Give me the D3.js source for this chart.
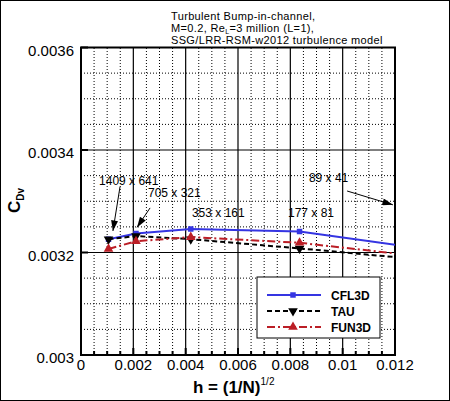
<!DOCTYPE html>
<html>
<head>
<meta charset="utf-8">
<script src="https://cdn.jsdelivr.net/npm/d3@7"></script>
<style>
  body { margin: 0; background: #fff; }
  svg { display: block; font-family: "Liberation Sans", Arial, Helvetica, sans-serif; }
</style>
</head>
<body>
<svg id="chart" width="450" height="401"></svg>
<script>
// grid spacing h = (1/N)^(1/2) for each mesh
const hValues = [0.001052, 0.002102, 0.004195, 0.008352, 0.016554];
const meshLabels = ["1409 x 641", "705 x 321", "353 x 161", "177 x 81", "89 x 41"];

// Cdv values
const cfl3d = [0.003226, 0.003237, 0.003246, 0.003241, 0.003183];
const tau   = [0.003226, 0.003232, 0.003226, 0.003208, 0.003170];
const fun3d = [0.003207, 0.003222, 0.003230, 0.003219, 0.003172];

const xTicks = [0, 0.002, 0.004, 0.006, 0.008, 0.01, 0.012];
const yTicks = [0.003, 0.0032, 0.0034, 0.0036];

// label anchor (h, Cdv) and arrow start/end for each mesh label
const labelPos = [[0.00069, 0.003332], [0.00256, 0.003308], [0.00424, 0.003269], [0.00791, 0.003269], [0.00871, 0.003338]];
const arrows = [
  [[0.00149, 0.003328], [0.00122, 0.003242]],
  [[0.00264, 0.003287], [0.00214, 0.003249]],
  [[0.01017, 0.003320], [0.01192, 0.003293]]
];

const series = [
  { name: "CFL3D", values: cfl3d, color: "#3535e2", dash: null, symbol: "square" },
  { name: "TAU", values: tau, color: "#000000", dash: "5,3", symbol: "down" },
  { name: "FUN3D", values: fun3d, color: "#bb1e26", dash: "8,3,2,3", symbol: "up" }
];

const svg = d3.select("#chart");
const x = d3.scaleLinear().domain([0, 0.012]).range([81, 395]);
const y = d3.scaleLinear().domain([0.003, 0.0036]).range([355, 47.5]);

// outer border
svg.append("rect")
  .attr("x", 0.5).attr("y", 0.5)
  .attr("width", 449).attr("height", 400)
  .attr("fill", "#fff").attr("stroke", "#000");

const defs = svg.append("defs");
defs.append("clipPath").attr("id", "plot-clip")
  .append("rect")
  .attr("x", x(0)).attr("y", y(0.0036))
  .attr("width", x(0.012) - x(0)).attr("height", y(0.003) - y(0.0036));

defs.append("marker")
  .attr("id", "arrow")
  .attr("viewBox", "0 0 12 8")
  .attr("refX", 12).attr("refY", 4)
  .attr("markerWidth", 12).attr("markerHeight", 7)
  .attr("markerUnits", "userSpaceOnUse")
  .attr("orient", "auto")
  .append("path")
  .attr("d", "M0,0 L12,4 L0,8 Z")
  .attr("fill", "#000");

// grid
const grid = svg.append("g");
const vLines = d3.range(0, 25).map(i => ({ v: i * 0.0005, major: i % 4 === 0 }));
const hLines = d3.range(0, 13).map(i => ({ v: 0.003 + i * 0.00005, major: i % 4 === 0 }));

grid.selectAll("line.v")
  .data(vLines)
  .enter()
  .append("line")
  .attr("x1", d => x(d.v)).attr("x2", d => x(d.v))
  .attr("y1", y(0.003)).attr("y2", y(0.0036))
  .attr("stroke", "#000")
  .attr("stroke-width", d => d.major ? 1.2 : 1)
  .attr("stroke-dasharray", d => d.major ? null : "1,2");

grid.selectAll("line.h")
  .data(hLines)
  .enter()
  .append("line")
  .attr("x1", x(0)).attr("x2", x(0.012))
  .attr("y1", d => y(d.v)).attr("y2", d => y(d.v))
  .attr("stroke", "#000")
  .attr("stroke-width", d => d.major ? 1.2 : 1)
  .attr("stroke-dasharray", d => d.major ? null : "1,2");

// ticks
svg.append("g").selectAll("line")
  .data(vLines)
  .enter()
  .append("line")
  .attr("x1", d => x(d.v)).attr("x2", d => x(d.v))
  .attr("y1", y(0.003)).attr("y2", d => y(0.003) - (d.major ? 7 : 4))
  .attr("stroke", "#000").attr("stroke-width", 2);

svg.append("g").selectAll("line")
  .data(hLines.filter(d => d.major))
  .enter()
  .append("line")
  .attr("x1", x(0)).attr("x2", x(0) + 7)
  .attr("y1", d => y(d.v)).attr("y2", d => y(d.v))
  .attr("stroke", "#000").attr("stroke-width", 2);

// frame
svg.append("rect")
  .attr("x", x(0)).attr("y", y(0.0036))
  .attr("width", x(0.012) - x(0)).attr("height", y(0.003) - y(0.0036))
  .attr("fill", "none").attr("stroke", "#000").attr("stroke-width", 2);

// tick labels
svg.append("g").selectAll("text")
  .data(xTicks)
  .enter()
  .append("text")
  .attr("x", d => x(d))
  .attr("y", 370)
  .attr("text-anchor", "middle")
  .attr("font-size", 15)
  .text(d => d === 0 ? "0" : String(+d.toFixed(3)));

svg.append("g").selectAll("text")
  .data(yTicks)
  .enter()
  .append("text")
  .attr("x", 74)
  .attr("y", d => y(d) + 8)
  .attr("text-anchor", "end")
  .attr("font-size", 15)
  .text(d => String(+d.toFixed(4)));

// axis titles
const xTitle = svg.append("text")
  .attr("x", 193).attr("y", 393)
  .attr("font-size", 17).attr("font-weight", "bold");
xTitle.append("tspan").text("h = (1/N)");
xTitle.append("tspan").attr("dy", -8).attr("font-size", 10).attr("font-weight", "normal").text("1/2");

const yTitle = svg.append("text")
  .attr("transform", "translate(20,213) rotate(-90)")
  .attr("font-size", 17).attr("font-weight", "bold");
yTitle.append("tspan").text("C");
yTitle.append("tspan").attr("dy", 4).attr("font-size", 10).text("Dv");

// title
const title = svg.append("g").attr("font-size", 11).attr("letter-spacing", 0.35);
title.append("text").attr("x", 171).attr("y", 19.8).text("Turbulent Bump-in-channel,");
const t2 = title.append("text").attr("x", 171).attr("y", 32.1);
t2.append("tspan").text("M=0.2, Re");
t2.append("tspan").attr("dy", 2).attr("font-size", 7).text("L");
t2.append("tspan").attr("dy", -2).text("=3 million (L=1),");
title.append("text").attr("x", 171).attr("y", 44.4).text("SSG/LRR-RSM-w2012 turbulence model");

// series
const plot = svg.append("g").attr("clip-path", "url(#plot-clip)");
const line = d3.line()
  .x((d, i) => x(hValues[i]))
  .y(d => y(d));

function symbolPath(kind) {
  if (kind === "square") return d3.symbol(d3.symbolSquare, 30)();
  return d3.symbol(d3.symbolTriangle, 40)();
}

series.forEach(s => {
  plot.append("path")
    .datum(s.values)
    .attr("d", line)
    .attr("fill", "none")
    .attr("stroke", s.color)
    .attr("stroke-width", 2)
    .attr("stroke-dasharray", s.dash);

  plot.selectAll(null)
    .data(s.values)
    .enter()
    .append("path")
    .attr("d", symbolPath(s.symbol))
    .attr("transform", (d, i) => `translate(${x(hValues[i])},${y(d)})` + (s.symbol === "down" ? " rotate(180)" : ""))
    .attr("fill", s.color);
});

// mesh labels and arrows
svg.append("g").selectAll("text")
  .data(meshLabels)
  .enter()
  .append("text")
  .attr("x", (d, i) => x(labelPos[i][0]))
  .attr("y", (d, i) => y(labelPos[i][1]))
  .attr("font-size", 12)
  .text(d => d);

svg.append("g").selectAll("line")
  .data(arrows)
  .enter()
  .append("line")
  .attr("x1", d => x(d[0][0])).attr("y1", d => y(d[0][1]))
  .attr("x2", d => x(d[1][0])).attr("y2", d => y(d[1][1]))
  .attr("stroke", "#000").attr("stroke-width", 1)
  .attr("marker-end", "url(#arrow)");

// legend
const legend = svg.append("g").attr("transform", "translate(257,277)");
legend.append("rect")
  .attr("width", 123).attr("height", 61)
  .attr("fill", "#fff").attr("stroke", "#000").attr("stroke-width", 1);

const rows = legend.selectAll("g.row")
  .data(series)
  .enter()
  .append("g")
  .attr("transform", (d, i) => `translate(0,${18 + i * 16})`);

rows.append("line")
  .attr("x1", 10).attr("x2", 64)
  .attr("stroke", d => d.color).attr("stroke-width", 2)
  .attr("stroke-dasharray", d => d.dash);

rows.append("path")
  .attr("d", d => symbolPath(d.symbol))
  .attr("transform", d => "translate(36,0)" + (d.symbol === "down" ? " rotate(180)" : ""))
  .attr("fill", d => d.color);

rows.append("text")
  .attr("x", 74).attr("y", 5)
  .attr("font-size", 12).attr("font-weight", "bold")
  .text(d => d.name);
</script>
</body>
</html>
